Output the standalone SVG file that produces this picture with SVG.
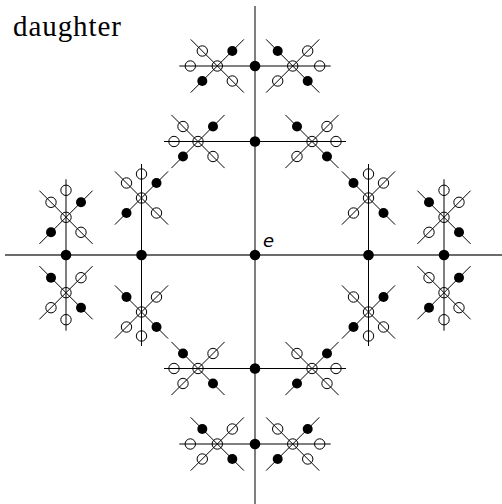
<svg xmlns="http://www.w3.org/2000/svg" xmlns:xlink="http://www.w3.org/1999/xlink" width="502" height="504" viewBox="0 0 502 504">
<style>
  line { stroke: #000; stroke-width: 1; }
  .axis { stroke: #3a3a3a; stroke-width: 1.3; }
  .o { fill: none; stroke: #000; stroke-width: 1; }
  .f { fill: #000; stroke: none; }
  .lbl { font-family: "Liberation Serif", "DejaVu Serif", serif; font-size: 29px; fill: #000; }
  .e { font-family: "DejaVu Sans", "Liberation Sans", sans-serif; font-style: italic; font-size: 18px; fill: #000; }
</style>
<defs>
  <g id="xa">
    <line x1="-26.6" y1="-26.6" x2="26.6" y2="26.6"/>
    <line x1="-26.6" y1="26.6" x2="26.6" y2="-26.6"/>
    <circle class="o" cx="0" cy="0" r="5.2"/>
    <circle class="o" cx="-15" cy="-15" r="5.2"/>
    <circle class="o" cx="15" cy="15" r="5.2"/>
    <circle class="f" cx="15" cy="-15" r="5"/>
    <circle class="f" cx="-15" cy="15" r="5"/>
  </g>
  <g id="xb">
    <line x1="-26.6" y1="-26.6" x2="26.6" y2="26.6"/>
    <line x1="-26.6" y1="26.6" x2="26.6" y2="-26.6"/>
    <circle class="o" cx="0" cy="0" r="5.2"/>
    <circle class="o" cx="15" cy="-15" r="5.2"/>
    <circle class="o" cx="-15" cy="15" r="5.2"/>
    <circle class="f" cx="-15" cy="-15" r="5"/>
    <circle class="f" cx="15" cy="15" r="5"/>
  </g>
</defs>
<rect width="502" height="504" fill="#fff"/>
<text class="lbl" x="13" y="36" textLength="108" lengthAdjust="spacing">daughter</text>

<g id="connectors">
  <line class="axis" x1="5" y1="255" x2="505" y2="255"/>
  <line class="axis" x1="255" y1="6" x2="255" y2="504"/>
  <line x1="179.3" y1="66" x2="330.7" y2="66"/>
  <line x1="179.3" y1="444" x2="330.7" y2="444"/>
  <line x1="66" y1="179.3" x2="66" y2="330.7"/>
  <line x1="444" y1="179.3" x2="444" y2="330.7"/>
  <line x1="164" y1="141.5" x2="346" y2="141.5"/>
  <line x1="164" y1="368.5" x2="346" y2="368.5"/>
  <line x1="141.5" y1="164" x2="141.5" y2="346"/>
  <line x1="368.5" y1="164" x2="368.5" y2="346"/>
</g>

<g id="e">
  <circle class="f" cx="255" cy="255" r="5.3"/>
  <text class="e" x="263" y="247">e</text>
</g>
<g id="v-top"><circle class="f" cx="255" cy="66" r="5.3"/></g>
<g id="v-top2"><circle class="f" cx="255" cy="141.5" r="5.3"/></g>
<g id="v-bot2"><circle class="f" cx="255" cy="368.5" r="5.3"/></g>
<g id="v-bot"><circle class="f" cx="255" cy="444" r="5.3"/></g>
<g id="v-left"><circle class="f" cx="66" cy="255" r="5.3"/></g>
<g id="v-left2"><circle class="f" cx="141.5" cy="255" r="5.3"/></g>
<g id="v-right2"><circle class="f" cx="368.5" cy="255" r="5.3"/></g>
<g id="v-right"><circle class="f" cx="444" cy="255" r="5.3"/></g>

<!-- upper-left quadrant -->
<g id="c-top-l"><use xlink:href="#xa" href="#xa" x="217.3" y="66"/><circle class="o" cx="190.3" cy="66" r="5.2"/></g>
<g id="c-top2-l"><use xlink:href="#xa" href="#xa" x="198" y="141.5"/><circle class="o" cx="174" cy="141.5" r="5.2"/></g>
<g id="c-left2-u"><use xlink:href="#xa" href="#xa" x="141.5" y="198"/><circle class="o" cx="141.5" cy="174" r="5.2"/></g>
<g id="c-left-u"><use xlink:href="#xa" href="#xa" x="66" y="217.3"/><circle class="o" cx="66" cy="190.3" r="5.2"/></g>
<!-- upper-right quadrant -->
<g id="c-top-r"><use xlink:href="#xb" href="#xb" x="292.7" y="66"/><circle class="o" cx="319.7" cy="66" r="5.2"/></g>
<g id="c-top2-r"><use xlink:href="#xb" href="#xb" x="312" y="141.5"/><circle class="o" cx="336" cy="141.5" r="5.2"/></g>
<g id="c-right2-u"><use xlink:href="#xb" href="#xb" x="368.5" y="198"/><circle class="o" cx="368.5" cy="174" r="5.2"/></g>
<g id="c-right-u"><use xlink:href="#xb" href="#xb" x="444" y="217.3"/><circle class="o" cx="444" cy="190.3" r="5.2"/></g>
<!-- lower-left quadrant -->
<g id="c-left-d"><use xlink:href="#xb" href="#xb" x="66" y="292.7"/><circle class="o" cx="66" cy="319.7" r="5.2"/></g>
<g id="c-left2-d"><use xlink:href="#xb" href="#xb" x="141.5" y="312"/><circle class="o" cx="141.5" cy="336" r="5.2"/></g>
<g id="c-bot2-l"><use xlink:href="#xb" href="#xb" x="198" y="368.5"/><circle class="o" cx="174" cy="368.5" r="5.2"/></g>
<g id="c-bot-l"><use xlink:href="#xb" href="#xb" x="217.3" y="444"/><circle class="o" cx="190.3" cy="444" r="5.2"/></g>
<!-- lower-right quadrant -->
<g id="c-right-d"><use xlink:href="#xa" href="#xa" x="444" y="292.7"/><circle class="o" cx="444" cy="319.7" r="5.2"/></g>
<g id="c-right2-d"><use xlink:href="#xa" href="#xa" x="368.5" y="312"/><circle class="o" cx="368.5" cy="336" r="5.2"/></g>
<g id="c-bot2-r"><use xlink:href="#xa" href="#xa" x="312" y="368.5"/><circle class="o" cx="336" cy="368.5" r="5.2"/></g>
<g id="c-bot-r"><use xlink:href="#xa" href="#xa" x="292.7" y="444"/><circle class="o" cx="319.7" cy="444" r="5.2"/></g>
</svg>
